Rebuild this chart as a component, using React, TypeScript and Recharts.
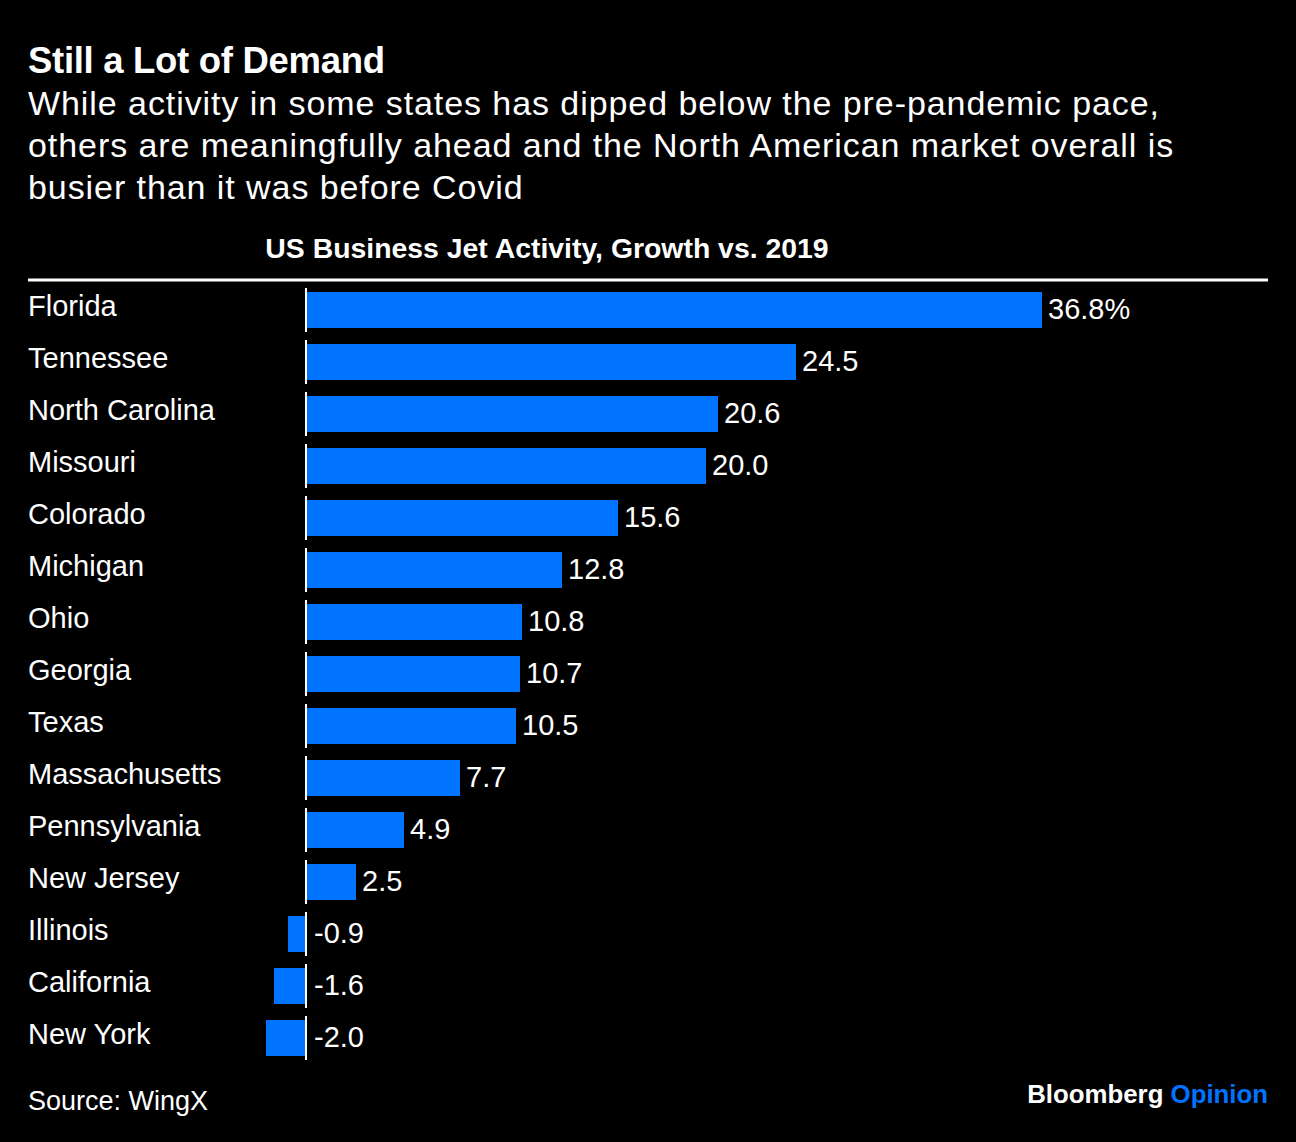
import React from 'react';
import { BarChart, Bar, XAxis, YAxis } from 'recharts';

const states = [
  'Florida',
  'Tennessee',
  'North Carolina',
  'Missouri',
  'Colorado',
  'Michigan',
  'Ohio',
  'Georgia',
  'Texas',
  'Massachusetts',
  'Pennsylvania',
  'New Jersey',
  'Illinois',
  'California',
  'New York',
];

const growth = [36.8, 24.5, 20.6, 20.0, 15.6, 12.8, 10.8, 10.7, 10.5, 7.7, 4.9, 2.5, -0.9, -1.6, -2.0];

const xDomain = [-2, 36.8];

const titleText = 'Still a Lot of Demand';
const subtitleLines = [
  'While activity in some states has dipped below the pre-pandemic pace,',
  'others are meaningfully ahead and the North American market overall is',
  'busier than it was before Covid',
];
const chartHeader = 'US Business Jet Activity, Growth vs. 2019';
const sourceText = 'Source: WingX';

const data = states.map((s, i) => ({ state: s, value: growth[i] }));

const FONT = '"Liberation Sans", Arial, Helvetica, sans-serif';
const BLUE = '#0073ff';

const BarShape = (props: any) => {
  const { x, y, width, height, payload, index } = props;
  const v = payload ? payload.value : 0;
  const left = Math.min(x, x + width);
  const w = Math.abs(width);
  const right = left + w;
  const zeroX = v >= 0 ? left : right;
  const labelX = v >= 0 ? right + 6 : right + 8;
  const label = index === 0 ? `${v.toFixed(1)}%` : v.toFixed(1);
  return (
    <g>
      <rect x={left} y={y} width={w} height={height} fill={BLUE} />
      <line x1={zeroX} x2={zeroX} y1={y - 4} y2={y + height + 4} stroke="#ffffff" strokeWidth={2} />
      <text x={labelX} y={y + height / 2 + 9} fill="#ffffff" fontSize={29} fontFamily={FONT}>
        {label}
      </text>
    </g>
  );
};

const CatTick = (props: any) => {
  const { y, payload } = props;
  return (
    <text x={28} y={y + 6} fill="#ffffff" fontSize={29} fontFamily={FONT}>
      {payload.value}
    </text>
  );
};

export default function App() {
  return (
    <div
      style={{
        position: 'absolute',
        left: 0,
        top: 0,
        width: 1296,
        height: 1142,
        background: '#000000',
        overflow: 'hidden',
      }}
    >
      <BarChart
        width={1296}
        height={1142}
        data={data}
        layout="vertical"
        margin={{ top: 284, right: 254, bottom: 78, left: 28 }}
        barSize={36}
      >
        <XAxis type="number" domain={xDomain} hide />
        <YAxis
          type="category"
          dataKey="state"
          width={238}
          axisLine={false}
          tickLine={false}
          interval={0}
          tick={<CatTick />}
        />
        <Bar dataKey="value" shape={<BarShape />} isAnimationActive={false} />
      </BarChart>
      <svg
        width={1296}
        height={1142}
        style={{ position: 'absolute', left: 0, top: 0, pointerEvents: 'none' }}
      >
        <text x={28} y={73} fill="#ffffff" fontSize={36.5} fontWeight={700} fontFamily={FONT} letterSpacing={-0.3}>
          {titleText}
        </text>
        {subtitleLines.map((l, i) => (
          <text key={i} x={28} y={115 + i * 42} fill="#ffffff" fontSize={34} fontFamily={FONT} letterSpacing={0.93}>
            {l}
          </text>
        ))}
        <text x={547} y={258} fill="#ffffff" fontSize={28.4} fontWeight={700} fontFamily={FONT} textAnchor="middle">
          {chartHeader}
        </text>
        <line x1={28} x2={1268} y1={280} y2={280} stroke="#ffffff" strokeWidth={3} />
        <text x={28} y={1110} fill="#ffffff" fontSize={27} fontFamily={FONT}>
          {sourceText}
        </text>
        <text x={1268} y={1103} fontSize={25.8} fontWeight={700} fontFamily={FONT} textAnchor="end">
          <tspan fill="#ffffff">Bloomberg </tspan>
          <tspan fill={BLUE}>Opinion</tspan>
        </text>
      </svg>
    </div>
  );
}
